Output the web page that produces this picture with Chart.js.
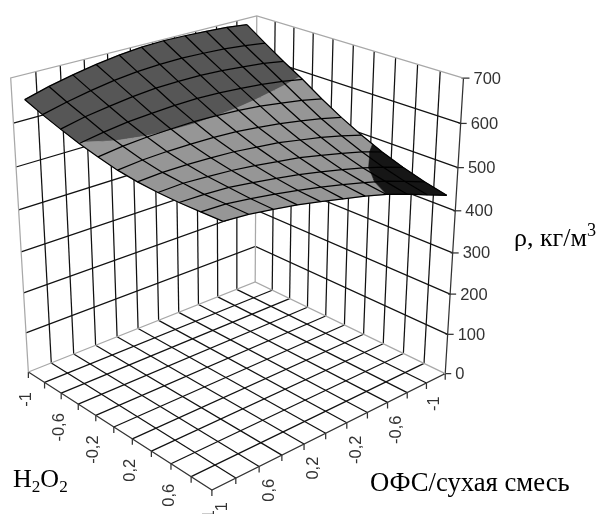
<!DOCTYPE html>
<html><head><meta charset="utf-8">
<style>html,body{margin:0;padding:0;background:#fff}canvas{display:block}</style>
<script src="https://cdn.jsdelivr.net/npm/chart.js@4"></script>
</head><body><canvas id="c" width="597" height="514"></canvas>
<script>
const h2o2Ticks = ['-1','-0,6','-0,2','0,2','0,6','1'];
const ofsTicks = ['-1','-0,6','-0,2','0,2','0,6','1'];
const rhoTicks = [0,100,200,300,400,500,600,700];
const bandLimits = [400,500,600,700];
const bandColors = ['#161616','#969696','#565656'];
// rows: H2O2 -1 .. 1 ; columns: OFS -1 .. 1
const rho = [
[685,691,694,696,697,695,690,682,672,660,645],
[654,661,666,669,671,670,667,661,652,641,628],
[624,633,638,643,646,646,645,640,633,625,613],
[596,605,612,617,621,623,622,619,615,608,599],
[565,576,584,592,597,600,602,601,599,595,588],
[537,549,559,568,575,581,584,585,585,583,578],
[512,526,538,548,558,564,570,573,575,575,572],
[490,506,519,531,542,550,558,564,568,571,569],
[472,489,504,517,529,540,549,557,564,567,568],
[457,475,493,507,520,532,542,552,560,567,569],
[445,464,483,500,514,526,538,549,558,566,570]
];
// calibration: [a,b,z01, px, py]; a along H2O2, b along OFS
const calib = [
[0,0,0,256,282],[0,1,0,28,372],[1,0,0,444,374],[1,1,0,212,490],
[0,0,1,256,16],[0,1,1,11,78],[1,0,1,463,78],
[1,0,1/7,447,334],[1,0,2/7,450,295],[1,0,3/7,454,252],[1,0,4/7,456,210],[1,0,5/7,459,168],[1,0,6/7,460,124]
];
function solve(A,B){const n=B.length;const M=A.map((r,i)=>[...r,B[i]]);
 for(let i=0;i<n;i++){let p=i;for(let k=i+1;k<n;k++)if(Math.abs(M[k][i])>Math.abs(M[p][i]))p=k;[M[i],M[p]]=[M[p],M[i]];
  for(let k=0;k<n;k++){if(k===i)continue;const f=M[k][i]/M[i][i];for(let j=i;j<=n;j++)M[k][j]-=f*M[i][j];}}
 return M.map((r,i)=>r[n]/r[i]);}
const rows=[],rhs=[];
for(const [a,b,z,x,y] of calib){
 rows.push([a,b,z,1,0,0,0,0,-a*x,-b*x,-z*x]);rhs.push(x);
 rows.push([0,0,0,0,a,b,z,1,-a*y,-b*y,-z*y]);rhs.push(y);}
const N=Array.from({length:11},(_,i)=>Array.from({length:11},(_,j)=>rows.reduce((s,r)=>s+r[i]*r[j],0)));
const R=Array.from({length:11},(_,i)=>rows.reduce((s,r,k)=>s+r[i]*rhs[k],0));
const P=solve(N,R);
function proj(a,b,z){const w=P[8]*a+P[9]*b+P[10]*z+1;return {x:(P[0]*a+P[1]*b+P[2]*z+P[3])/w,y:(P[4]*a+P[5]*b+P[6]*z+P[7])/w};}
const Zm=700;
const line=(pts,color,order,width=1.25)=>({type:'scatter',data:pts,showLine:true,fill:false,borderColor:color,borderWidth:width,pointRadius:0,order,tension:0,clip:false});
const ds=[];
const gridC='#111111', edgeC='#a8a8a8', axisC='#333333';
const N_A=10,N_B=11;
// walls
for(const v of rhoTicks.slice(1,-1)){const z=v/Zm;
 ds.push(line([proj(0,1,z),proj(0,0,z),proj(1,0,z)],gridC,5));}
for(let i=1;i<N_B;i++){ds.push(line([proj(0,i/N_B,0),proj(0,i/N_B,1)],gridC,5));}
for(let i=1;i<N_A;i++){ds.push(line([proj(i/N_A,0,0),proj(i/N_A,0,1)],gridC,5));}
// floor
for(let i=1;i<N_B;i++){ds.push(line([proj(0,i/N_B,0),proj(1,i/N_B,0)],gridC,5));}
for(let i=1;i<N_A;i++){ds.push(line([proj(i/N_A,0,0),proj(i/N_A,1,0)],gridC,5));}
// wall edges
ds.push(line([proj(0,1,0),proj(0,1,1),proj(0,0,1),proj(1,0,1)],edgeC,4));
ds.push(line([proj(0,0,1),proj(0,0,0)],edgeC,4));
ds.push(line([proj(0,1,0),proj(0,0,0),proj(1,0,0)],edgeC,4));
// axes
ds.push(line([proj(0,1,0),proj(1,1,0),proj(1,0,0),proj(1,0,1)],axisC,4));
const off=(p,dx,dy)=>({x:p.x+dx,y:p.y+dy});
for(let i=0;i<=N_A;i++){const p=proj(i/N_A,1,0);ds.push(line([p,off(p,0,6)],axisC,4));}
for(let i=0;i<N_B;i++){const p=proj(1,i/N_B,0);ds.push(line([p,off(p,0,6)],axisC,4));}
for(const v of rhoTicks){const p=proj(1,0,v/Zm);ds.push(line([off(p,-2,0),off(p,6,0)],axisC,4));}
// surface
const A=i=>i/(rho.length-1), B=j=>(j+0.5)/N_B;
function clip(poly,lim,keepAbove){const out=[];for(let i=0;i<poly.length;i++){const p=poly[i],q=poly[(i+1)%poly.length];
 const pin=keepAbove?p[2]>=lim:p[2]<=lim,qin=keepAbove?q[2]>=lim:q[2]<=lim;
 if(pin)out.push(p);
 if(pin!==qin){const t=(lim-p[2])/(q[2]-p[2]);out.push([p[0]+t*(q[0]-p[0]),p[1]+t*(q[1]-p[1]),lim]);}}
 return out;}
for(let i=0;i<rho.length-1;i++)for(let j=0;j<rho[0].length-1;j++){
 const cell=[[A(i),B(j),rho[i][j]],[A(i+1),B(j),rho[i+1][j]],[A(i+1),B(j+1),rho[i+1][j+1]],[A(i),B(j+1),rho[i][j+1]]];
 for(let k=0;k<bandColors.length;k++){
  let poly=clip(clip(cell,bandLimits[k],true),bandLimits[k+1],false);
  if(poly.length<3)continue;
  const pts=poly.map(p=>proj(p[0],p[1],p[2]/Zm));pts.push(pts[0]);
  ds.push({type:'scatter',data:pts,showLine:true,fill:'shape',backgroundColor:bandColors[k],borderColor:bandColors[k],borderWidth:0.6,pointRadius:0,order:3,tension:0,clip:false});
 }}
// mesh
const meshC='#000000';
for(let i=0;i<rho.length;i++)ds.push(line(rho[i].map((z,j)=>proj(A(i),B(j),z/Zm)),meshC,2));
for(let j=0;j<rho[0].length;j++)ds.push(line(rho.map((r,i)=>proj(A(i),B(j),r[j]/Zm)),meshC,2));

function rotText(ctx,t,x,y){ctx.save();ctx.translate(x,y);ctx.rotate(-Math.PI/2);ctx.textAlign='right';ctx.textBaseline='middle';ctx.fillText(t,0,0);ctx.restore();}
function runs(ctx,x,y,parts,size){let cx=x;for(const [t,sh,sc] of parts){ctx.font=(size*sc)+'px "Liberation Serif"';ctx.fillText(t,cx,y+sh);cx+=ctx.measureText(t).width;}}
const labels={id:'labels',afterDraw(c){const ctx=c.ctx;ctx.save();ctx.fillStyle='#333';ctx.font='16.5px "Liberation Sans"';
 const n=h2o2Ticks.length;
 h2o2Ticks.forEach((t,k)=>{const p=proj(k/(n-1),1,0);rotText(ctx,t,p.x-2,p.y+20);});
 ofsTicks.forEach((t,k)=>{const p=proj(1,(k*2+0.5)/N_B,0);rotText(ctx,t,p.x-1,p.y+18);});
 ctx.textAlign='left';ctx.textBaseline='middle';
 rhoTicks.forEach(v=>{const p=proj(1,0,v/Zm);ctx.fillText(String(v),p.x+10,p.y+1);});
 ctx.fillStyle='#000';ctx.textBaseline='alphabetic';ctx.textAlign='left';
 runs(ctx,13,487,[['H',0,1],['2',5,.66],['O',0,1],['2',5,.66]],26);
 runs(ctx,370,491,[['ОФС/сухая смесь',0,1]],26.7);
 runs(ctx,514,246,[['ρ, кг/м',0,1],['3',-10,.7]],26);
 ctx.restore();}};
new Chart(document.getElementById('c'),{type:'scatter',data:{datasets:ds},plugins:[labels],options:{responsive:false,animation:false,events:[],layout:{padding:0},
 plugins:{legend:{display:false},tooltip:{enabled:false}},
 scales:{x:{type:'linear',min:0,max:597,display:false},y:{type:'linear',min:0,max:514,reverse:true,display:false}}}});
</script></body></html>
